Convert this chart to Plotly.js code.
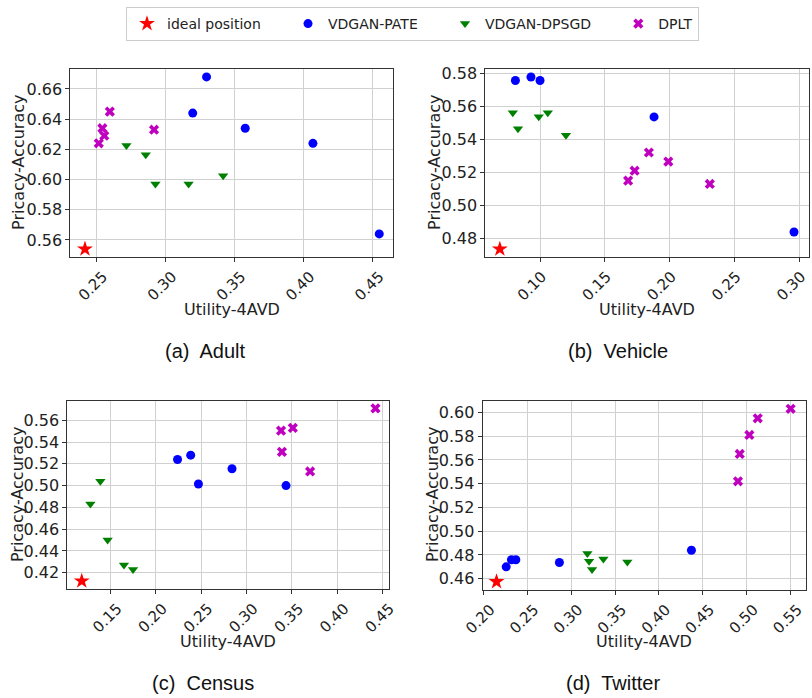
<!DOCTYPE html>
<html>
<head>
<meta charset="utf-8">
<script src="https://cdn.plot.ly/plotly-3.0.1.min.js"></script>
<style>
  html, body { margin: 0; padding: 0; background: #fff; }
  #chart { width: 812px; height: 698px; }
</style>
</head>
<body>
<div id="chart"></div>
<script>
// Privacy/utility trade-off of three synthesizers on four datasets.
const seriesNames = ["ideal position", "VDGAN-PATE", "VDGAN-DPSGD", "DPLT"];
const captions = ["(a)  Adult", "(b)  Vehicle", "(c)  Census", "(d)  Twitter"];
const xTitle = "Utility-4AVD";
const yTitle = "Pricacy-Accuracy";

// (a) Adult
const adultIdealX = [0.242];
const adultIdealY = [0.554];
const adultPateX = [0.330, 0.320, 0.358, 0.407, 0.455];
const adultPateY = [0.668, 0.644, 0.634, 0.624, 0.564];
const adultDpsgdX = [0.272, 0.286, 0.293, 0.317, 0.342];
const adultDpsgdY = [0.6225, 0.6165, 0.597, 0.597, 0.6025];
const adultDpltX = [0.260, 0.2546, 0.256, 0.252, 0.292];
const adultDpltY = [0.645, 0.634, 0.629, 0.624, 0.633];

// (b) Vehicle
const vehicleIdealX = [0.069];
const vehicleIdealY = [0.4737];
const vehiclePateX = [0.081, 0.093, 0.100, 0.188, 0.296];
const vehiclePateY = [0.5755, 0.5776, 0.5755, 0.5535, 0.484];
const vehicleDpsgdX = [0.079, 0.083, 0.099, 0.106, 0.120];
const vehicleDpsgdY = [0.556, 0.5463, 0.5536, 0.556, 0.5424];
const vehicleDpltX = [0.168, 0.173, 0.184, 0.199, 0.231];
const vehicleDpltY = [0.515, 0.521, 0.532, 0.5265, 0.513];

// (c) Census
const censusIdealX = [0.1185];
const censusIdealY = [0.4123];
const censusPateX = [0.224, 0.2385, 0.247, 0.284, 0.3435];
const censusPateY = [0.524, 0.528, 0.5015, 0.5155, 0.500];
const censusDpsgdX = [0.139, 0.128, 0.147, 0.165, 0.175];
const censusDpsgdY = [0.504, 0.483, 0.450, 0.427, 0.423];
const censusDpltX = [0.442, 0.338, 0.351, 0.339, 0.370];
const censusDpltY = [0.571, 0.5505, 0.553, 0.531, 0.513];

// (d) Twitter
const twitterIdealX = [0.215];
const twitterIdealY = [0.4575];
const twitterPateX = [0.226, 0.232, 0.237, 0.2866, 0.437];
const twitterPateY = [0.470, 0.476, 0.476, 0.4737, 0.484];
const twitterDpsgdX = [0.3185, 0.3204, 0.3238, 0.3367, 0.364];
const twitterDpsgdY = [0.4813, 0.4748, 0.4678, 0.4765, 0.474];
const twitterDpltX = [0.490, 0.492, 0.503, 0.5125, 0.550];
const twitterDpltY = [0.542, 0.565, 0.581, 0.595, 0.603];

const panels = [
  { ideal: [adultIdealX, adultIdealY], pate: [adultPateX, adultPateY],
    dpsgd: [adultDpsgdX, adultDpsgdY], dplt: [adultDpltX, adultDpltY],
    xr: [0.2314, 0.4652], yr: [0.5487, 0.6732], shift: 7,
    xd: [0.0866, 0.4844], yd: [0.6318, 0.9011],
    xt: [0.2855, 0.5570], yt: [19 / 812, 0.7665], cap: [0.2520, 0.497] },
  { ideal: [vehicleIdealX, vehicleIdealY], pate: [vehiclePateX, vehiclePateY],
    dpsgd: [vehicleDpsgdX, vehicleDpsgdY], dplt: [vehicleDpltX, vehicleDpltY],
    xr: [0.0578, 0.3073], yr: [0.4689, 0.5824], shift: 2,
    xd: [0.5977, 0.9959], yd: [0.6318, 0.9011],
    xt: [0.7968, 0.5570], yt: [435 / 812, 0.7665], cap: [0.7615, 0.497] },
  { ideal: [censusIdealX, censusIdealY], pate: [censusPateX, censusPateY],
    dpsgd: [censusDpsgdX, censusDpsgdY], dplt: [censusDpltX, censusDpltY],
    xr: [0.1026, 0.4573], yr: [0.405, 0.578], shift: 7,
    xd: [0.0829, 0.4795], yd: [0.1562, 0.4259],
    xt: [0.2812, 0.0815], yt: [17 / 812, 0.2908], cap: [0.2500, 0.021] },
  { ideal: [twitterIdealX, twitterIdealY], pate: [twitterPateX, twitterPateY],
    dpsgd: [twitterDpsgdX, twitterDpsgdY], dplt: [twitterDpltX, twitterDpltY],
    xr: [0.1992, 0.5671], yr: [0.4505, 0.6098], shift: 7,
    xd: [0.5944, 0.9922], yd: [0.1547, 0.4259],
    xt: [0.7933, 0.0815], yt: [432 / 812, 0.2908], cap: [0.7550, 0.021] }
];

const styles = [
  { key: "ideal", symbol: "star", color: "#ff0000", size: 12 },
  { key: "pate", symbol: "circle", color: "#0000ff", size: 9 },
  { key: "dpsgd", symbol: "triangle-down", color: "#008000", size: 9 },
  { key: "dplt", symbol: "x", color: "#bf00bf", size: 9 }
];

// legend entries get a little trailing room so they sit further apart
const legendPad = "\u00a0\u00a0\u00a0\u00a0\u00a0";

const tickFont = { family: "DejaVu Sans", size: 15, color: "#222" };
const titleFont = { family: "DejaVu Sans", size: 16, color: "#222" };

const traces = [];
const layout = {
  width: 812, height: 698, autosize: false,
  margin: { l: 0, r: 0, t: 0, b: 0 },
  paper_bgcolor: "#ffffff", plot_bgcolor: "#ffffff",
  showlegend: true,
  legend: {
    orientation: "h", x: 0.508, xanchor: "center", y: 0.99, yanchor: "top",
    bordercolor: "#cccccc", borderwidth: 1, bgcolor: "#ffffff",
    font: { family: "DejaVu Sans", size: 14, color: "#222" },
    traceorder: "normal"
  },
  annotations: []
};

panels.forEach((p, i) => {
  const n = i === 0 ? "" : String(i + 1);
  const xa = "x" + n, ya = "y" + n;
  styles.forEach((s, k) => {
    traces.push({
      type: "scatter", mode: "markers",
      x: p[s.key][0], y: p[s.key][1],
      xaxis: xa, yaxis: ya,
      name: k < styles.length - 1 ? seriesNames[k] + legendPad : seriesNames[k],
      legendgroup: seriesNames[k],
      showlegend: i === 0,
      marker: { symbol: s.symbol, color: s.color, size: s.size, line: { width: 0 } },
      hoverinfo: "x+y"
    });
  });
  const axisCommon = {
    showline: true, mirror: true, linecolor: "#333", linewidth: 1,
    showgrid: true, gridcolor: "#d0d0d0", gridwidth: 1,
    zeroline: false, ticks: "outside", ticklen: 4, tickcolor: "#333",
    tickfont: tickFont, tickformat: ".2f", ticklabeloverflow: "allow"
  };
  layout["xaxis" + n] = Object.assign({}, axisCommon, {
    domain: p.xd, range: p.xr, anchor: ya, dtick: 0.05, tick0: 0,
    tickangle: -45, ticklabelshift: p.shift
  });
  layout["yaxis" + n] = Object.assign({}, axisCommon, {
    domain: p.yd, range: p.yr, anchor: xa, dtick: 0.02, tick0: 0,
    tickfont: { family: "DejaVu Sans", size: 16, color: "#222" }
  });
  // axis titles
  layout.annotations.push({
    text: xTitle, xref: "paper", yref: "paper",
    x: p.xt[0], y: p.xt[1], xanchor: "center", yanchor: "middle",
    showarrow: false, font: titleFont
  });
  layout.annotations.push({
    text: yTitle, xref: "paper", yref: "paper", textangle: -90,
    x: p.yt[0], y: p.yt[1], xanchor: "center", yanchor: "middle",
    showarrow: false, font: titleFont
  });
  // panel caption
  layout.annotations.push({
    text: captions[i], xref: "paper", yref: "paper",
    x: p.cap[0], y: p.cap[1], xanchor: "center", yanchor: "middle",
    showarrow: false,
    font: { family: "Liberation Sans", size: 20, color: "#111" }
  });
});

Plotly.newPlot("chart", traces, layout, { displayModeBar: false, staticPlot: true });
</script>
</body>
</html>
